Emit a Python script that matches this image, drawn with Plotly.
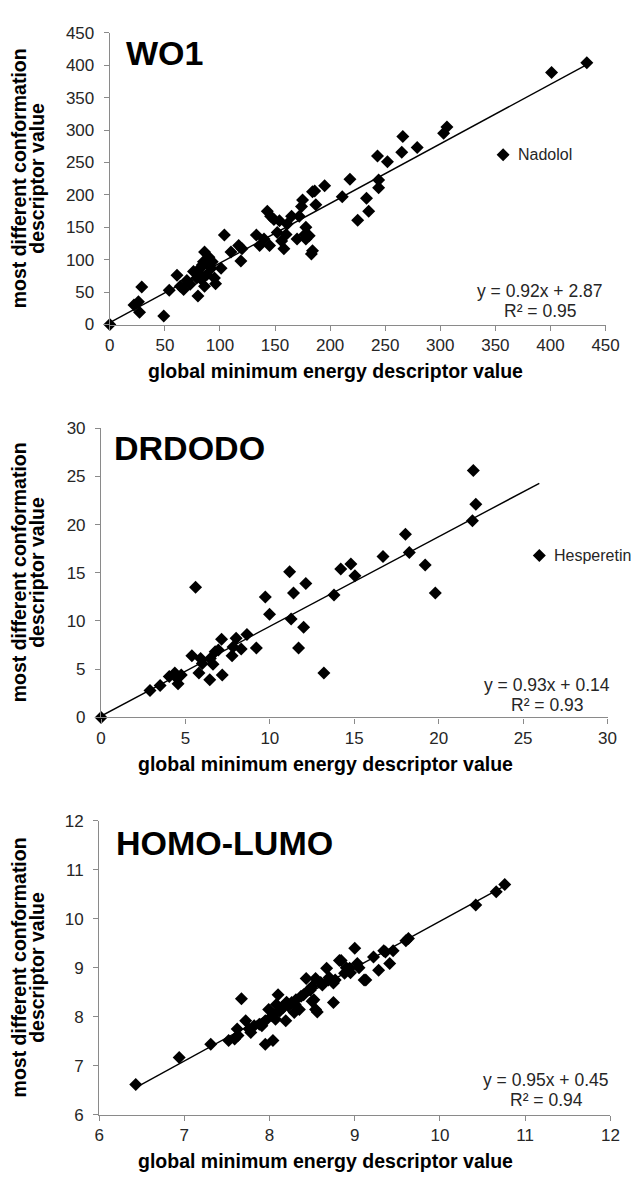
import plotly.graph_objects as go

W, H = 638, 1180
FONT = "Liberation Sans, Arial, sans-serif"

# ---------------- Panel 1: WO1 ----------------
wo1_x = [0, 22, 26, 27, 29, 49, 54, 61, 64, 67, 70, 73, 76, 78, 79, 80, 82, 83, 84, 85, 86, 86,
         88, 88, 90, 92, 93, 95, 96, 101, 104, 110, 117, 119, 120, 133, 136, 140, 143, 145, 146,
         149, 152, 154, 156, 158, 160, 161, 165, 170, 172, 174, 175, 177, 178, 178, 181, 183,
         184, 184, 186, 187, 195, 211, 218, 225, 233, 235, 243, 244, 244, 252, 265, 266, 279,
         303, 306, 401, 433]
wo1_y = [0, 30, 35, 19, 58, 13, 53, 76, 59, 54, 68, 62, 82, 80, 72, 44, 87, 70, 92, 97, 112, 59,
         77, 95, 104, 87, 97, 72, 63, 87, 138, 112, 122, 98, 117, 138, 122, 132, 175, 122, 167,
         162, 142, 160, 129, 117, 139, 155, 167, 132, 167, 182, 192, 139, 132, 150, 137, 109,
         205, 114, 206, 185, 214, 197, 224, 161, 195, 175, 260, 223, 211, 251, 266, 290, 273,
         295, 305, 389, 404]
wo1_lab = "Nadolol"
wo1_lab_x = [357]
wo1_lab_y = [262]
wo1_fit = (0.92, 2.87, 0.95)

# ---------------- Panel 2: DRDODO ----------------
dr_x = [0, 2.9, 3.5, 4.04, 4.37, 4.46, 4.56, 4.75, 5.38, 5.6, 5.8, 5.9, 6.0, 6.44, 6.47, 6.63,
        6.76, 6.95, 7.14, 7.18, 7.76, 7.82, 8.0, 8.3, 8.64, 9.2, 9.73, 9.98, 11.17, 11.26, 11.4,
        11.7, 12.0, 12.13, 13.2, 13.8, 14.2, 14.8, 15.04, 16.7, 18.03, 18.26, 19.2, 19.8, 22.0,
        22.05, 22.2]
dr_y = [0, 2.8, 3.3, 4.25, 4.6, 4.15, 3.5, 4.4, 6.4, 13.5, 4.6, 6.1, 5.6, 3.9, 6.1, 5.5,
        6.8, 7.0, 8.1, 4.4, 6.4, 7.3, 8.2, 7.1, 8.6, 7.2, 12.5, 10.7, 15.1, 10.2, 12.9,
        7.2, 9.35, 13.9, 4.6, 12.7, 15.4, 15.9, 14.7, 16.7, 19.0, 17.1, 15.8, 12.9, 20.4,
        25.6, 22.1]
dr_lab = "Hesperetin"
dr_lab_x = [25.96]
dr_lab_y = [16.8]
dr_fit = (0.93, 0.14, 0.93)

# ---------------- Panel 3: HOMO-LUMO ----------------
hl_x = [6.43, 6.94, 7.31, 7.52, 7.59, 7.62, 7.63, 7.67, 7.72, 7.76, 7.78, 7.82, 7.88, 7.91,
        7.95, 7.95, 7.99, 8.03, 8.04, 8.05, 8.07, 8.08, 8.10, 8.12, 8.15, 8.16, 8.19, 8.20,
        8.22, 8.26, 8.29, 8.30, 8.31, 8.35, 8.37, 8.40, 8.43, 8.46, 8.48, 8.50, 8.50, 8.52,
        8.54, 8.54, 8.56, 8.60, 8.62, 8.67, 8.69, 8.70, 8.75, 8.75, 8.77, 8.82, 8.84, 8.88,
        8.90, 8.94, 8.95, 9.00, 9.03, 9.05, 9.11, 9.13, 9.22, 9.28, 9.34, 9.36, 9.41, 9.45,
        9.60, 9.63, 10.42, 10.66, 10.76]
hl_y = [6.62, 7.17, 7.44, 7.52, 7.55, 7.75, 7.62, 8.37, 7.92, 7.75, 7.68, 7.82, 7.85, 7.82,
        7.44, 7.92, 8.15, 8.02, 7.52, 8.05, 7.95, 8.25, 8.45, 8.12, 8.20, 8.19, 7.92, 8.30,
        8.22, 8.29, 8.09, 8.25, 8.35, 8.15, 8.42, 8.45, 8.78, 8.55, 8.55, 8.62, 8.32, 8.35,
        8.78, 8.15, 8.10, 8.70, 8.65, 8.99, 8.75, 8.80, 8.69, 8.29, 8.75, 9.15, 9.15, 8.89,
        9.00, 8.99, 8.90, 9.40, 9.09, 9.00, 8.75, 8.75, 9.22, 8.95, 9.35, 9.32, 9.09, 9.35,
        9.55, 9.60, 10.28, 10.55, 10.70]
hl_fit = (0.95, 0.45, 0.94)

titles = ["WO1", "DRDODO", "HOMO-LUMO"]
x_title = "global minimum energy descriptor value"
y_title_1 = "most different conformation"
y_title_2 = "descriptor value"

# layout geometry in pixels: (x0, x1, ytop, ybottom)
geo = [(108, 619, 24.3, 320.7), (99, 621, 426, 720), (97, 624, 825, 1124)]
ranges = [((0, 450, 50), (0, 450, 50)), ((0, 30, 5), (0, 30, 5)), ((6, 12, 1), (6, 12, 1))]
title_pos = [(123, 44.5), (110, 446), (112, 848)]
eq_pos = [(551, 286.7), (559, 687), (558, 1089)]
xt_center = [341, 330, 330]

def fx(p):
    return p / W

def fy(p):
    return 1 - p / H

fig = go.Figure()

datasets = [
    (wo1_x, wo1_y, wo1_fit, wo1_lab, wo1_lab_x, wo1_lab_y),
    (dr_x, dr_y, dr_fit, dr_lab, dr_lab_x, dr_lab_y),
    (hl_x, hl_y, hl_fit, None, [], []),
]

annotations = []
mk = dict(symbol="diamond", size=10, color="black", line=dict(width=0))

for i, (xs, ys, fit, lab, lx, ly) in enumerate(datasets):
    sfx = "" if i == 0 else str(i + 1)
    xa, ya = "x" + sfx, "y" + sfx
    allx = xs + lx
    x0f, x1f = min(allx), max(allx)
    m, b, r2 = fit
    fig.add_trace(go.Scatter(x=[x0f, x1f], y=[m * x0f + b, m * x1f + b], mode="lines",
                             line=dict(color="black", width=1.4), xaxis=xa, yaxis=ya,
                             cliponaxis=False, showlegend=False, hoverinfo="skip"))
    fig.add_trace(go.Scatter(x=xs, y=ys, mode="markers", marker=mk, xaxis=xa, yaxis=ya,
                             cliponaxis=False, showlegend=False))
    if lab:
        fig.add_trace(go.Scatter(x=lx, y=ly, mode="markers", marker=mk, xaxis=xa, yaxis=ya,
                                 cliponaxis=False, showlegend=False))
        annotations.append(dict(x=lx[0], y=ly[0], xref=xa, yref=ya, text=lab, showarrow=False,
                                xanchor="left", yanchor="middle", xshift=13,
                                font=dict(family=FONT, size=16, color="#262626")))

    px0, px1, ptop, pbot = geo[i]
    (xr0, xr1, xd), (yr0, yr1, yd) = ranges[i]
    common = dict(showgrid=False, zeroline=False, showline=True, linecolor="#8a8a8a",
                  linewidth=1.2, ticks="outside", ticklen=5, tickcolor="#8a8a8a", tickwidth=1.2,
                  tickfont=dict(family=FONT, size=17, color="#262626"))
    fig.layout["xaxis" + sfx] = dict(common, range=[xr0, xr1], dtick=xd, tick0=xr0,
                                     domain=[fx(px0), fx(px1)], anchor=ya)
    fig.layout["yaxis" + sfx] = dict(common, range=[yr0, yr1], dtick=yd, tick0=yr0,
                                     domain=[fy(pbot), fy(ptop)], anchor=xa,
                                     ticklabelstandoff=6)

    tx, ty = title_pos[i]
    annotations.append(dict(x=fx(tx), y=fy(ty), xref="paper", yref="paper", text=titles[i],
                            showarrow=False, xanchor="left", yanchor="middle",
                            font=dict(family=FONT, size=34, color="black", weight="bold")))
    ex, ey = eq_pos[i]
    annotations.append(dict(x=fx(ex), y=fy(ey), xref="paper", yref="paper",
                            text=f"y = {m:.2f}x + {b:.2f}", showarrow=False,
                            xanchor="center", yanchor="middle",
                            font=dict(family=FONT, size=17.5, color="#262626")))
    annotations.append(dict(x=fx(ex), y=fy(ey + 20), xref="paper", yref="paper",
                            text=f"R² = {r2:.2f}", showarrow=False,
                            xanchor="center", yanchor="middle",
                            font=dict(family=FONT, size=17.5, color="#262626")))
    annotations.append(dict(x=fx(xt_center[i]), y=fy(pbot + 47), xref="paper", yref="paper",
                            text=x_title, showarrow=False, xanchor="center", yanchor="middle",
                            font=dict(family=FONT, size=19.5, color="black", weight="bold")))
    ymid = (ptop + pbot) / 2
    annotations.append(dict(x=fx(14), y=fy(ymid), xref="paper", yref="paper",
                            text=y_title_1, textangle=-90, showarrow=False,
                            xanchor="center", yanchor="middle",
                            font=dict(family=FONT, size=19.5, color="black", weight="bold")))
    annotations.append(dict(x=fx(33), y=fy(ymid), xref="paper", yref="paper",
                            text=y_title_2, textangle=-90, showarrow=False,
                            xanchor="center", yanchor="middle",
                            font=dict(family=FONT, size=19.5, color="black", weight="bold")))

fig.update_layout(width=W, height=H, margin=dict(l=0, r=0, t=0, b=0),
                  paper_bgcolor="white", plot_bgcolor="white",
                  annotations=annotations, showlegend=False,
                  font=dict(family=FONT))

fig.write_html("out.html")
